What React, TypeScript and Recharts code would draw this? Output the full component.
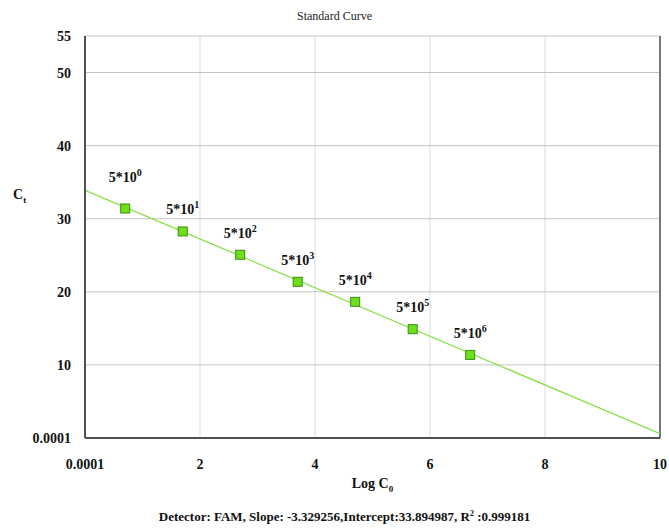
import React from 'react';
import {
  ComposedChart,
  Line,
  Scatter,
  XAxis,
  YAxis,
  CartesianGrid,
  ReferenceLine,
} from 'recharts';

// Standard points: log10 of copy number and measured Ct
const logC0 = [0.699, 1.699, 2.699, 3.699, 4.699, 5.699, 6.699];
const ctValues = [31.4, 28.26, 25.07, 21.37, 18.63, 14.89, 11.37];
const pointBase = ['5*10', '5*10', '5*10', '5*10', '5*10', '5*10', '5*10'];
const pointExp = ['0', '1', '2', '3', '4', '5', '6'];

// Fitted line endpoints (from slope/intercept in footer)
const fitX = [0, 10];
const fitY = [33.895, 0.602];

const xTicks = [0, 2, 4, 6, 8, 10];
const yTicks = [0, 10, 20, 30, 40, 50, 55];

const points = logC0.map((x, i) => ({
  x,
  y: ctValues[i],
  base: pointBase[i],
  exp: pointExp[i],
}));
const fitData = fitX.map((x, i) => ({ x, fit: fitY[i] }));

const SERIF = '"Liberation Serif", "Times New Roman", serif';

const PointShape = (props: any) => {
  const { cx, cy, payload, index } = props;
  if (cx == null || cy == null) return null;
  const lift = index === 0 ? 26 : 17;
  return (
    <g>
      <rect
        x={cx - 4.5}
        y={cy - 4.5}
        width={9}
        height={9}
        fill="#6ee01a"
        stroke="#3c8c14"
        strokeWidth={1}
      />
      <text
        x={cx}
        y={cy - lift}
        textAnchor="middle"
        fontFamily={SERIF}
        fontWeight="bold"
        fontSize={14}
        fill="#111"
      >
        {payload.base}
        <tspan dy={-6} fontSize={10}>
          {payload.exp}
        </tspan>
      </text>
    </g>
  );
};

const fmt = (v: number) => (v === 0 ? '0.0001' : String(v));

export default function App() {
  return (
    <div
      style={{
        position: 'absolute',
        left: 0,
        top: 0,
        width: 669,
        height: 528,
        background: '#fff',
        fontFamily: SERIF,
      }}
    >
      <ComposedChart
        width={669}
        height={528}
        margin={{ top: 36, right: 9, left: 0, bottom: 0 }}
      >
        <CartesianGrid
          stroke="#dcdcdc"
          horizontal={false}
          verticalValues={xTicks}
        />
        <CartesianGrid
          stroke="#c4c4bc"
          vertical={false}
          horizontalValues={yTicks}
        />
        <XAxis
          type="number"
          dataKey="x"
          domain={[0, 10]}
          ticks={xTicks}
          tickFormatter={fmt}
          height={90}
          axisLine={{ stroke: '#505050', strokeWidth: 2 }}
          tickLine={false}
          tickSize={0}
          tickMargin={21}
          tick={{ fontFamily: SERIF, fontWeight: 'bold', fontSize: 14, fill: '#111' }}
          allowDataOverflow
        />
        <YAxis
          type="number"
          domain={[0, 55]}
          ticks={yTicks}
          tickFormatter={fmt}
          width={85}
          axisLine={{ stroke: '#505050', strokeWidth: 2 }}
          tickLine={false}
          tickSize={0}
          tickMargin={14}
          tick={{ fontFamily: SERIF, fontWeight: 'bold', fontSize: 14, fill: '#111' }}
          allowDataOverflow
        />
        <ReferenceLine x={10} stroke="#777" strokeWidth={2} />
        <Line
          data={fitData}
          dataKey="fit"
          type="linear"
          stroke="#80e040"
          strokeWidth={1.2}
          dot={false}
          activeDot={false}
          isAnimationActive={false}
        />
        <Scatter
          data={points}
          dataKey="y"
          shape={<PointShape />}
          isAnimationActive={false}
        />
      </ComposedChart>
      <div
        style={{
          position: 'absolute',
          left: 0,
          width: 669,
          top: 9,
          textAlign: 'center',
          fontSize: 12,
          color: '#222',
        }}
      >
        Standard Curve
      </div>
      <div
        style={{
          position: 'absolute',
          left: 13,
          top: 187,
          fontSize: 14,
          fontWeight: 'bold',
          color: '#111',
        }}
      >
        C<sub style={{ fontSize: 9 }}>t</sub>
      </div>
      <div
        style={{
          position: 'absolute',
          left: 85,
          width: 575,
          top: 476,
          textAlign: 'center',
          fontSize: 14,
          fontWeight: 'bold',
          color: '#111',
        }}
      >
        Log C<sub style={{ fontSize: 9 }}>0</sub>
      </div>
      <div
        style={{
          position: 'absolute',
          left: 10,
          width: 669,
          top: 509,
          textAlign: 'center',
          fontSize: 13,
          fontWeight: 'bold',
          color: '#111',
          whiteSpace: 'nowrap',
        }}
      >
        Detector: FAM, Slope: -3.329256,Intercept:33.894987, R
        <sup style={{ fontSize: 8 }}>2</sup> :0.999181
      </div>
    </div>
  );
}
